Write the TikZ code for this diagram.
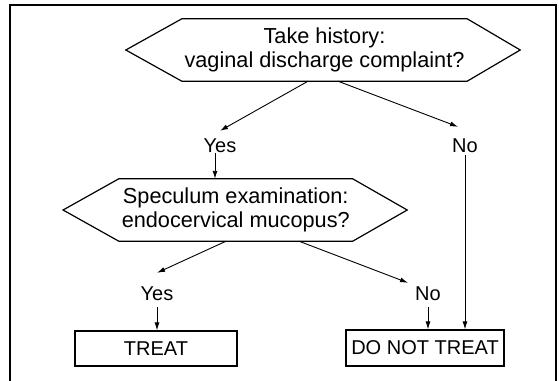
\documentclass[tikz,border=0pt]{standalone}
\usepackage{fontspec}
\setmainfont{Liberation Sans}
\usetikzlibrary{calc,arrows.meta}
\begin{document}
\begin{tikzpicture}[x=1pt,y=-1pt,
  txt/.style={font=\fontsize{20}{24}\selectfont},
  hexbody/.style={font=\fontsize{21.7}{24}\selectfont,align=center,inner sep=0pt,minimum height=62pt},
  lbl/.style={txt,inner sep=0pt,text height=14pt,text depth=0pt,anchor=base},
  boxnode/.style={txt,draw,line width=1.2pt,inner sep=0pt},
  hexline/.style={line width=1.2pt,line join=miter},
  arr/.style={line width=0.9pt,-{Latex[length=8pt,width=5pt]}},
  frame/.style={line width=1.2pt}]
\useasboundingbox (0,0) rectangle (559,380);
% frame
\draw[frame] (10,382) -- (10,5) -- (556,5) -- (556,382);

% top decision
\node[hexbody,minimum width=285pt] (h1) at (324.5,50) {Take history:\\vaginal discharge complaint?};
\draw[hexline] (h1.north west) -- (h1.north east) -- ($(h1.east)+(53,0)$) -- (h1.south east)
  -- (h1.south west) -- ($(h1.west)+(-56,0)$) -- cycle;

% second decision
\node[hexbody,minimum width=233.5pt] (h2) at (235.75,210) {Speculum examination:\\endocervical mucopus?};
\draw[hexline] (h2.north west) -- (h2.north east) -- ($(h2.east)+(54.5,0)$) -- (h2.south east)
  -- (h2.south west) -- ($(h2.west)+(-55.75,0)$) -- cycle;

% labels
\node[lbl] (yes1) at (220,152) {Yes};
\node[lbl] (no1) at (465,152) {No};
\node[lbl] (yes2) at (157,300) {Yes};
\node[lbl] (no2) at (428,300) {No};

% outcome boxes
\node[boxnode,minimum width=162pt,minimum height=35pt] (treat) at (156,348.5) {TREAT};
\node[boxnode,minimum width=158pt,minimum height=36pt] (dnt) at (425,348) {DO NOT TREAT};

% connectors
\draw[arr] ($(h1.south)+(-16.5,0)$) -- ($(yes1.north)+(0,-7)$);
\draw[arr] ($(h1.south)+(13.5,0)$) -- ($(no1.north)+(-7,-11)$);
\draw[arr] ($(yes1.south)+(-5,1)$) -- ($(h2.north)+(-20.75,0)$);
\draw[arr] ($(no1.south)+(0,3)$) -- (no1.south |- dnt.north);
\draw[arr] ($(h2.south)+(-9.75,0)$) -- ($(yes2.north)+(0,-13)$);
\draw[arr] ($(h2.south)+(63.25,0)$) -- ($(no2.north)+(-20,-3)$);
\draw[arr] ($(yes2.south)+(0,7)$) -- (yes2.south |- treat.north);
\draw[arr] ($(no2.south)+(0,7)$) -- (no2.south |- dnt.north);
\end{tikzpicture}
\end{document}
